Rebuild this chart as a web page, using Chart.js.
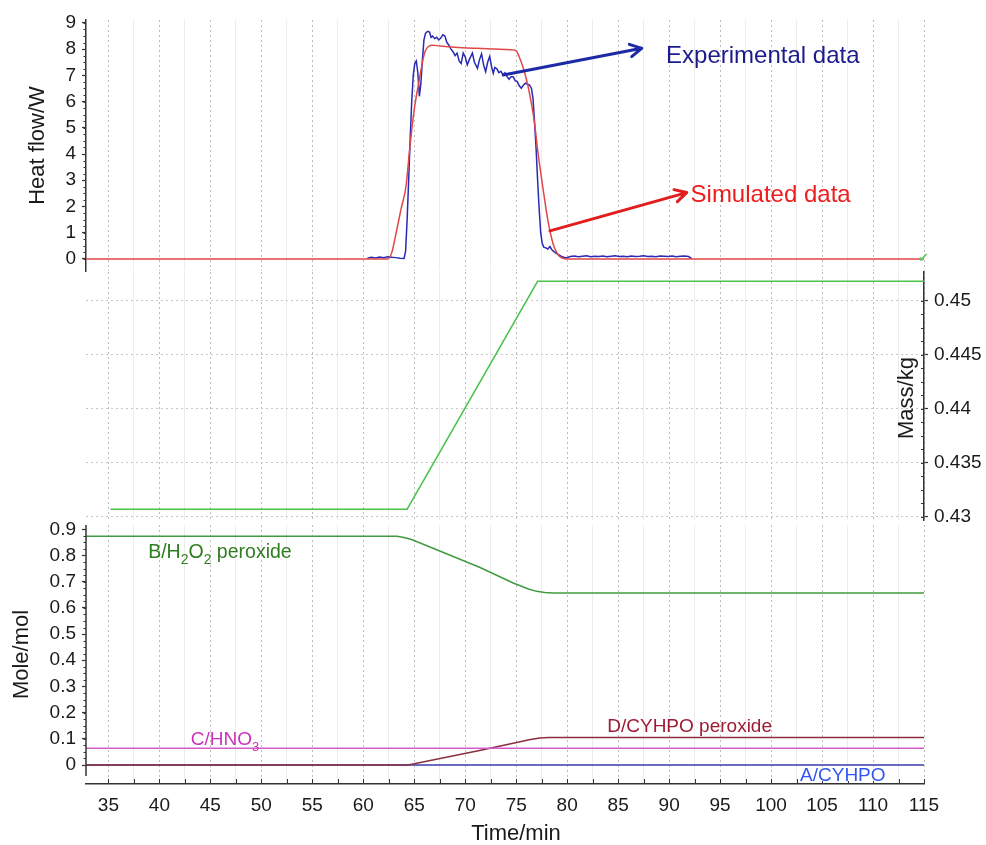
<!DOCTYPE html>
<html>
<head>
<meta charset="utf-8">
<title>Heat flow, mass and moles against time</title>
<script src="https://cdn.jsdelivr.net/npm/chart.js@4.4.0/dist/chart.umd.min.js"></script>
<style>
  html, body { margin: 0; padding: 0; background: #fff; }
  #wrap { position: relative; width: 986px; height: 845px; }
  #wrap canvas { position: absolute; left: 0; top: 0; }
</style>
</head>
<body>
<div id="wrap">
  <canvas id="moleChart" width="986" height="845"></canvas>
  <canvas id="massChart" width="986" height="845"></canvas>
  <canvas id="heatChart" width="986" height="845"></canvas>
</div>
<script>
// tick values
const timeLabels = [35, 40, 45, 50, 55, 60, 65, 70, 75, 80, 85, 90, 95, 100, 105, 110, 115];
const timeMinor = [37.5, 42.5, 47.5, 52.5, 57.5, 62.5, 67.5, 72.5, 77.5, 82.5, 87.5, 92.5, 97.5, 102.5, 107.5, 112.5];
const heatTicks = [0, 1, 2, 3, 4, 5, 6, 7, 8, 9];
const massTicks = [0.43, 0.435, 0.44, 0.445, 0.45];
const moleTicks = [0, 0.1, 0.2, 0.3, 0.4, 0.5, 0.6, 0.7, 0.8, 0.9];

// heat flow, simulated
const simTime = [32.8, 62.4, 62.8, 63.2, 63.7, 64.2, 64.55, 65.0, 65.5, 65.85, 66.1, 66.4, 66.8, 67.5, 69.0, 71.0,
  73.0, 74.5, 75.0, 75.3, 75.65, 76.0, 76.3, 76.8, 77.1, 77.6, 78.1, 78.6, 78.9, 79.25, 79.9, 115];
const simHeat = [0, 0, 0.25, 0.95, 1.9, 2.8, 4.2, 5.7, 6.85, 7.6, 7.95, 8.1, 8.15, 8.12, 8.07, 8.03,
  8.0, 7.98, 7.93, 7.7, 7.33, 6.85, 6.32, 5.17, 4.16, 2.76, 1.49, 0.6, 0.3, 0.09, 0, 0];

// heat flow, experimental
const expTime = [
  60.4, 60.8, 61.2, 61.6, 62.0, 62.4, 62.8, 63.2, 63.6, 64.0,
  64.15, 64.3, 64.45, 64.6, 64.75, 64.9, 65.05, 65.2, 65.35, 65.5,
  65.65, 65.8, 65.95, 66.1, 66.3, 66.5, 66.65, 66.8, 67.0, 67.2,
  67.4, 67.6, 67.8, 68.0, 68.2, 68.4, 68.6, 68.8, 69.0, 69.2,
  69.4, 69.6, 69.8, 70.0, 70.2, 70.4, 70.7, 70.9, 71.2, 71.4,
  71.6, 71.8, 72.0, 72.2, 72.4, 72.6, 72.75, 72.9, 73.1, 73.3,
  73.5, 73.7, 73.9, 74.1, 74.3, 74.5, 74.7, 74.9, 75.1, 75.3,
  75.5, 75.7, 75.9, 76.1, 76.3, 76.5, 76.65, 76.8, 76.95, 77.1,
  77.25, 77.4, 77.55, 77.7, 77.9, 78.1, 78.3, 78.5, 78.7, 78.9,
  79.2, 79.5, 79.9, 80.3, 80.7, 81.1, 81.5, 81.9, 82.3, 82.7,
  83.1, 83.5, 83.9, 84.3, 84.7, 85.1, 85.5, 85.9, 86.3, 86.7,
  87.1, 87.5, 87.9, 88.3, 88.7, 89.1, 89.5, 89.9, 90.3, 90.7,
  91.1, 91.5, 91.9, 92.2];
const expHeat = [
  0.03, 0.06, 0.04, 0.07, 0.05, 0.08, 0.06, 0.05, 0.03, 0.02,
  0.3, 1.5, 3.0, 4.6, 6.0, 7.0, 7.45, 7.55, 7.1, 6.2,
  6.7, 7.6, 8.35, 8.6, 8.68, 8.65, 8.45, 8.5, 8.4, 8.45,
  8.35, 8.42, 8.55, 8.5, 8.25, 8.15, 8.0, 7.9, 7.75, 7.85,
  7.55, 7.45, 7.85, 7.7, 7.4, 7.6, 7.85, 7.5, 7.27, 7.6,
  7.82, 7.4, 7.14, 7.5, 7.72, 7.3, 7.08, 7.3, 7.25, 7.1,
  7.15, 7.02, 7.1, 6.95, 6.85, 6.95, 6.95, 6.8, 6.76, 6.6,
  6.51, 6.62, 6.7, 6.66, 6.64, 6.5, 6.1, 5.2, 4.2, 3.0,
  1.9, 1.0, 0.6, 0.45, 0.42, 0.38, 0.47, 0.35, 0.28, 0.22,
  0.15, 0.08, 0.04, 0.09, 0.11, 0.08, 0.1, 0.12, 0.08, 0.1,
  0.09, 0.11, 0.08, 0.1, 0.12, 0.09, 0.1, 0.08, 0.11, 0.09,
  0.1, 0.12, 0.09, 0.1, 0.08, 0.11, 0.1, 0.09, 0.11, 0.08,
  0.1, 0.11, 0.09, 0.02];

// reactor mass
const massTime = [35.2, 64.3, 77.1, 115];
const massValue = [0.4307, 0.4307, 0.4518, 0.4518];

// moles of each species
const bTime = [32.8, 63.3, 64.0, 64.8, 71.4, 74.7, 76.2, 77.0, 77.8, 78.6, 115];
const bMole = [0.873, 0.873, 0.869, 0.86, 0.755, 0.695, 0.672, 0.663, 0.659, 0.657, 0.657];
const cTime = [32.8, 115];
const cMole = [0.064, 0.064];
const dTime = [32.8, 64.4, 71.4, 76.4, 77.3, 78.2, 115];
const dMole = [0, 0, 0.055, 0.097, 0.103, 0.105, 0.105];
const aTime = [32.8, 115];
const aMole = [0, 0];

const FONT = "'Liberation Sans', Arial, Helvetica, sans-serif";
const INK = '#1a1a1a';
const AXIS = '#333';
Chart.defaults.font.family = FONT;
Chart.defaults.color = INK;
Chart.defaults.animation = false;

function pairs(xs, ys) {
  return xs.map((x, i) => ({ x: x, y: ys[i] }));
}

function line(data, color, extra) {
  return Object.assign({
    data: data, borderColor: color, borderWidth: 1.5,
    pointRadius: 0, fill: false, tension: 0
  }, extra || {});
}

// shared time axis; dotted lines at every 5 min
function timeAxis(showLabels) {
  return {
    type: 'linear', min: 32.8, max: 115, position: 'bottom',
    afterBuildTicks: s => { s.ticks = timeLabels.map(v => ({ value: v })); },
    afterFit: s => { if (showLabels) s.height = 61; },
    grid: { color: '#bdbdbd', lineWidth: 1, drawTicks: false },
    border: { display: showLabels, color: AXIS, width: 1.5, dash: [2, 3] },
    ticks: { display: showLabels, autoSkip: false, maxRotation: 0, padding: 10, font: { size: 19 } },
    title: { display: false }
  };
}

// faint solid lines halfway between the labelled times
function minorAxis() {
  return {
    type: 'linear', min: 32.8, max: 115, position: 'top',
    afterBuildTicks: s => { s.ticks = timeMinor.map(v => ({ value: v })); },
    grid: { color: '#ececec', lineWidth: 1, drawTicks: false },
    border: { display: false },
    ticks: { display: false }
  };
}

function valueAxis(opts) {
  return {
    type: 'linear', min: opts.min, max: opts.max, position: opts.position,
    afterBuildTicks: s => { s.ticks = opts.ticks.map(v => ({ value: v })); },
    afterFit: s => { s.width = opts.width; },
    grid: {
      drawOnChartArea: !!opts.grid, color: '#c8c8c8', lineWidth: 1,
      drawTicks: true, tickLength: 4, tickColor: AXIS, tickWidth: 1.2
    },
    border: { display: opts.border !== false, color: AXIS, width: 1.5, dash: [2, 3] },
    ticks: { padding: 6, font: { size: 19 }, callback: v => String(v) },
    title: opts.title ? {
      display: true, text: opts.title, font: { size: 22, lineHeight: 1 },
      padding: { top: opts.titlePad, bottom: 0 }
    } : { display: false }
  };
}

// small unlabelled marks along a value axis, every `step` between ticks
function minorMarks(ctx, scale, x, step, len) {
  const first = scale.ticks[0].value;
  const last = scale.ticks[scale.ticks.length - 1].value;
  const n = Math.round((last - first) / step);
  ctx.beginPath();
  for (let i = 0; i <= n; i++) {
    const y = Math.round(scale.getPixelForValue(first + i * step)) + 0.5;
    ctx.moveTo(x, y);
    ctx.lineTo(x + len, y);
  }
  ctx.stroke();
}

// axis marks, arrows and free text placed through the chart scales
function notesPlugin(labels, arrows, decorate) {
  return {
    id: 'notes',
    afterDraw(chart) {
      const ctx = chart.ctx;
      const sx = chart.scales.x, sy = chart.scales.y;
      ctx.save();
      ctx.strokeStyle = AXIS;
      ctx.fillStyle = INK;
      ctx.lineWidth = 1;
      if (decorate) decorate(chart, ctx);
      ctx.restore();

      ctx.save();
      arrows.forEach(a => {
        const x1 = sx.getPixelForValue(a.from[0]), y1 = sy.getPixelForValue(a.from[1]);
        const x2 = sx.getPixelForValue(a.to[0]), y2 = sy.getPixelForValue(a.to[1]);
        const ang = Math.atan2(y2 - y1, x2 - x1);
        ctx.strokeStyle = a.color;
        ctx.lineWidth = 3;
        ctx.lineCap = 'round';
        ctx.lineJoin = 'round';
        ctx.beginPath();
        ctx.moveTo(x1, y1);
        ctx.lineTo(x2, y2);
        [-1, 1].forEach(s => {
          ctx.moveTo(x2, y2);
          ctx.lineTo(x2 - 13 * Math.cos(ang + s * 0.5), y2 - 13 * Math.sin(ang + s * 0.5));
        });
        ctx.stroke();
      });
      ctx.textAlign = 'left';
      ctx.textBaseline = 'alphabetic';
      labels.forEach(l => {
        let x = sx.getPixelForValue(l.x);
        const y = sy.getPixelForValue(l.y);
        l.parts.forEach(p => {
          const sub = Array.isArray(p);
          const txt = sub ? p[0] : p;
          ctx.font = (sub ? Math.round(l.size * 0.7) : l.size) + 'px ' + FONT;
          const w = ctx.measureText(txt).width;
          if (l.knockout) {
            ctx.fillStyle = '#fff';
            ctx.fillRect(x, y - l.size * 0.75, w, l.size * 0.75);
          }
          ctx.fillStyle = l.color;
          ctx.fillText(txt, x, sub ? y + Math.round(l.size * 0.33) : y);
          x += w;
        });
      });
      ctx.restore();
    }
  };
}

const heatLabels = [
  { parts: ['Experimental data'], x: 89.7, y: 7.46, color: '#1b1b8e', size: 24 },
  { parts: ['Simulated data'], x: 92.1, y: 2.18, color: '#ee1c1c', size: 24 },
  { parts: ['\u2714'], x: 114.45, y: -0.12, color: '#6cc46c', size: 13 }
];
const heatArrows = [
  { from: [73.73, 7.01], to: [87.31, 8.03], color: '#1c2aa6' },
  { from: [78.31, 1.07], to: [91.72, 2.53], color: '#e11d1d' }
];

const moleLabels = [
  { parts: ['B/H', ['2'], 'O', ['2'], ' peroxide'], x: 38.9, y: 0.789, color: '#2f7d20', size: 19.5 },
  { parts: ['C/HNO', ['3']], x: 43.07, y: 0.0764, color: '#cc33bb', size: 19 },
  { parts: ['D/CYHPO peroxide'], x: 83.93, y: 0.1248, color: '#9e1b33', size: 19 },
  { parts: ['A/CYHPO'], x: 102.84, y: -0.0611, color: '#3356ee', size: 19, knockout: true }
];

const common = {
  responsive: false,
  events: [],
  plugins: { legend: { display: false }, tooltip: { enabled: false } }
};

new Chart(document.getElementById('heatChart'), {
  type: 'line',
  data: {
    datasets: [
      line(pairs(simTime, simHeat), '#e04848', { cubicInterpolationMode: 'monotone' }),
      line(pairs(expTime, expHeat), '#2a2ab4')
    ]
  },
  options: Object.assign({}, common, {
    layout: { padding: { top: 20, bottom: 574, left: 0, right: 62 } },
    scales: {
      x: timeAxis(false),
      xm: minorAxis(),
      y: valueAxis({ min: -0.46, max: 9.11, position: 'left', ticks: heatTicks, width: 86,
        title: 'Heat flow/W', titlePad: 27 })
    }
  }),
  plugins: [notesPlugin(heatLabels, heatArrows, (chart, ctx) => {
    minorMarks(ctx, chart.scales.y, chart.chartArea.left - 2.5, 0.25, 2.5);
  })]
});

new Chart(document.getElementById('massChart'), {
  type: 'line',
  data: {
    datasets: [line(pairs(massTime, massValue), '#4cc24c')]
  },
  options: Object.assign({}, common, {
    layout: { padding: { top: 272, bottom: 325, left: 86, right: 0 } },
    scales: {
      x: timeAxis(false),
      xm: minorAxis(),
      y: valueAxis({ min: 0.429694, max: 0.452657, position: 'right', ticks: massTicks, width: 62, grid: true })
    }
  }),
  plugins: [notesPlugin([], [], (chart, ctx) => {
    const area = chart.chartArea;
    minorMarks(ctx, chart.scales.y, area.right, 0.00125, -3);
    // mass title sits inside the plot, left of the right-hand axis
    ctx.translate(area.right - 17, (area.top + area.bottom) / 2 + 2);
    ctx.rotate(-Math.PI / 2);
    ctx.font = '22px ' + FONT;
    ctx.textAlign = 'center';
    ctx.textBaseline = 'middle';
    ctx.fillText('Mass/kg', 0, 0);
  })]
});

new Chart(document.getElementById('moleChart'), {
  type: 'line',
  data: {
    datasets: [
      line(pairs(bTime, bMole), '#419a41'),
      line(pairs(cTime, cMole), '#d45ccb'),
      line(pairs(dTime, dMole), '#8a2e3e'),
      line(pairs(aTime, aMole), '#3a3aae')
    ]
  },
  options: Object.assign({}, common, {
    layout: { padding: { top: 525, bottom: 0, left: 0, right: 62 } },
    scales: {
      x: timeAxis(true),
      xm: minorAxis(),
      y: valueAxis({ min: -0.0725, max: 0.9164, position: 'left', ticks: moleTicks, width: 86,
        title: 'Mole/mol', titlePad: 11, border: false })
    }
  }),
  plugins: [notesPlugin(moleLabels, [], (chart, ctx) => {
    const area = chart.chartArea;
    const sx = chart.scales.x;
    // left axis line stops short of the time axis
    ctx.lineWidth = 1.5;
    ctx.beginPath();
    ctx.moveTo(area.left, area.top);
    ctx.lineTo(area.left, area.bottom - 8);
    ctx.stroke();
    ctx.lineWidth = 1;
    minorMarks(ctx, chart.scales.y, area.left - 2.5, 0.025, 2.5);
    // short upward marks on the time axis
    ctx.beginPath();
    timeLabels.concat(timeMinor).forEach(v => {
      const x = Math.round(sx.getPixelForValue(v)) + 0.5;
      ctx.moveTo(x, area.bottom);
      ctx.lineTo(x, area.bottom - 5);
    });
    ctx.stroke();
    ctx.font = '22px ' + FONT;
    ctx.textAlign = 'center';
    ctx.textBaseline = 'middle';
    ctx.fillText('Time/min', (area.left + area.right) / 2 + 11, 834);
  })]
});
</script>
</body>
</html>
